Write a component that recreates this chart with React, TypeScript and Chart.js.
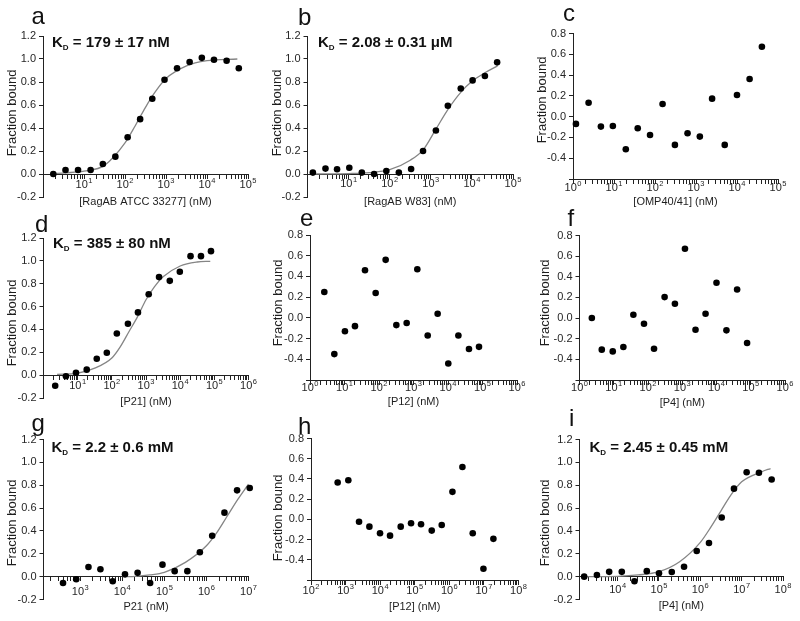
import React, { useEffect, useRef } from 'react';
import { Chart, registerables } from 'chart.js';

Chart.register(...registerables);

const FONT = '"Liberation Sans", Arial, Helvetica, sans-serif';
const Y_TITLE = 'Fraction bound';

// ---------- data ----------
const aX = [1.78, 3.54, 7.16, 14.5, 28.8, 58.2, 116, 234, 463, 920, 1860, 3770, 7480, 14800, 30100, 59700];
const aY = [0.0, 0.035, 0.035, 0.035, 0.087, 0.151, 0.32, 0.477, 0.654, 0.82, 0.92, 0.974, 1.01, 0.994, 0.985, 0.92];
const aFitX = [1.8, 3.5, 10, 31.6, 100, 178, 316, 562, 1000, 3160, 10000, 55000];
const aFitY = [0.003, 0.01, 0.025, 0.075, 0.27, 0.42, 0.58, 0.72, 0.83, 0.94, 0.985, 1.0];

const bX = [1.35, 2.74, 5.24, 10.4, 21.0, 41.7, 82.8, 167, 332, 647, 1330, 2600, 5360, 10400, 20700, 41100];
const bY = [0.012, 0.047, 0.041, 0.055, 0.012, 0.0, 0.026, 0.012, 0.044, 0.2, 0.378, 0.593, 0.744, 0.814, 0.852, 0.971];
const bFitX = [1.35, 10, 31.6, 100, 316, 650, 1330, 2600, 5360, 10400, 20700, 42000];
const bFitY = [0.0, 0.004, 0.012, 0.037, 0.12, 0.21, 0.39, 0.56, 0.71, 0.81, 0.88, 0.94];

const cX = [1.18, 2.4, 4.79, 9.38, 19.4, 37.9, 75.7, 153, 306, 622, 1240, 2470, 5020, 10000, 20300, 40500];
const cY = [-0.07, 0.134, -0.096, -0.09, -0.314, -0.112, -0.176, 0.122, -0.272, -0.16, -0.192, 0.173, -0.272, 0.208, 0.362, 0.672];

const dX = [2.2, 4.54, 8.93, 18.4, 36.2, 71.3, 140, 296, 582, 1200, 2410, 4970, 9770, 20100, 40600, 79800];
const dY = [-0.093, -0.01, 0.021, 0.048, 0.143, 0.196, 0.365, 0.45, 0.549, 0.708, 0.858, 0.825, 0.905, 1.041, 1.041, 1.085];
const dFitX = [2.5, 10, 31.6, 100, 178, 316, 562, 1000, 1780, 3160, 10000, 31600, 76000];
const dFitY = [0.006, 0.017, 0.061, 0.15, 0.25, 0.38, 0.51, 0.66, 0.775, 0.86, 0.955, 0.99, 0.996];

const eX = [2.6, 5.07, 10.3, 20.1, 39.3, 80.0, 156, 318, 634, 1290, 2580, 5010, 10200, 20000, 40600, 79200];
const eY = [0.25, -0.35, -0.13, -0.08, 0.46, 0.24, 0.56, -0.07, -0.05, 0.47, -0.17, 0.04, -0.44, -0.17, -0.3, -0.28];

const fX = [2.29, 4.47, 9.35, 19.1, 37.4, 76.4, 150, 305, 611, 1200, 2440, 4790, 10000, 19500, 40000, 78200];
const fY = [0.0, -0.306, -0.323, -0.281, 0.032, -0.055, -0.297, 0.203, 0.139, 0.671, -0.113, 0.042, 0.342, -0.119, 0.277, -0.242];

const gX = [390, 804, 1570, 3020, 5930, 11600, 23100, 45900, 90200, 176000, 352000, 698000, 1370000, 2680000, 5350000, 10700000];
const gY = [-0.055, -0.023, 0.085, 0.065, -0.04, 0.02, 0.033, -0.055, 0.105, 0.048, 0.048, 0.213, 0.358, 0.56, 0.755, 0.775];
const gFitX = [10000, 21000, 45000, 100000, 316000, 1000000, 1780000, 3160000, 5620000, 10000000];
const gFitY = [0.0, 0.003, 0.015, 0.038, 0.125, 0.27, 0.387, 0.533, 0.678, 0.81];

const hX = [590, 1200, 2450, 4880, 9910, 19300, 39300, 78200, 152000, 310000, 603000, 1230000, 2390000, 4750000, 9680000, 18800000];
const hY = [0.364, 0.387, -0.023, -0.072, -0.138, -0.161, -0.072, -0.039, -0.049, -0.111, -0.056, 0.272, 0.518, -0.138, -0.489, -0.193];

const iX = [1550, 3150, 6240, 12600, 25500, 50700, 100000, 204000, 404000, 818000, 1620000, 3290000, 6520000, 13200000, 26200000, 53100000];
const iY = [0.0, 0.015, 0.042, 0.042, -0.04, 0.048, 0.03, 0.04, 0.087, 0.224, 0.295, 0.518, 0.77, 0.914, 0.909, 0.85];
const iFitX = [1550, 10000, 31600, 100000, 316000, 1000000, 1780000, 3160000, 5620000, 10000000, 31600000, 50000000];
const iFitY = [0.0, 0.003, 0.015, 0.044, 0.131, 0.3, 0.431, 0.576, 0.72, 0.83, 0.92, 0.946];

// tick label exponents (10^n) shown on each x axis
const aExps = [1, 2, 3, 4, 5];
const bExps = [1, 2, 3, 4, 5];
const cExps = [0, 1, 2, 3, 4, 5];
const dExps = [1, 2, 3, 4, 5, 6];
const eExps = [0, 1, 2, 3, 4, 5, 6];
const fExps = [0, 1, 2, 3, 4, 5, 6];
const gExps = [3, 4, 5, 6, 7];
const hExps = [2, 3, 4, 5, 6, 7, 8];
const iExps = [4, 5, 6, 7, 8];

type Panel = {
  letter: string;
  xs: number[];
  ys: number[];
  fitX?: number[];
  fitY?: number[];
  kd?: string;
  xTitle: string;
  xMin: number;
  xMax: number;
  exps: number[];
  yMin: number;
  yMax: number;
  axisY: number;
  area: { l: number; r: number; t: number; b: number };
  labelY: number;
  titleY: number;
  yT: { x: number; y: number };
  let: { x: number; y: number };
  kdPos?: { x: number; y: number };
};

const panels: Panel[] = [
  { letter: 'a', xs: aX, ys: aY, fitX: aFitX, fitY: aFitY, kd: '179 ± 17 nM', xTitle: '[RagAB ATCC 33277] (nM)',
    xMin: 1, xMax: 1e5, exps: aExps, yMin: -0.2, yMax: 1.2, axisY: 0,
    area: { l: 43, r: 248, t: 36, b: 197 }, labelY: 184.5, titleY: 202, yT: { x: 12, y: 113 },
    let: { x: 31.5, y: 23.5 }, kdPos: { x: 52, y: 46.5 } },
  { letter: 'b', xs: bX, ys: bY, fitX: bFitX, fitY: bFitY, kd: '2.08 ± 0.31 μM', xTitle: '[RagAB W83] (nM)',
    xMin: 1, xMax: 1e5, exps: bExps, yMin: -0.2, yMax: 1.2, axisY: 0,
    area: { l: 307.5, r: 513, t: 36, b: 197 }, labelY: 184, titleY: 202, yT: { x: 277, y: 113 },
    let: { x: 298, y: 24.5 }, kdPos: { x: 318, y: 47 } },
  { letter: 'c', xs: cX, ys: cY, xTitle: '[OMP40/41] (nM)',
    xMin: 1, xMax: 1e5, exps: cExps, yMin: -0.6, yMax: 0.8, axisY: -0.6,
    area: { l: 573, r: 778, t: 33.5, b: 179 }, labelY: 187.5, titleY: 202, yT: { x: 542, y: 100 },
    let: { x: 563, y: 21 } },
  { letter: 'd', xs: dX, ys: dY, fitX: dFitX, fitY: dFitY, kd: '385 ± 80 nM', xTitle: '[P21] (nM)',
    xMin: 1, xMax: 1e6, exps: dExps, yMin: -0.2, yMax: 1.2, axisY: 0,
    area: { l: 43.5, r: 248.5, t: 238, b: 398 }, labelY: 386, titleY: 402, yT: { x: 12, y: 323 },
    let: { x: 35, y: 231.5 }, kdPos: { x: 53, y: 248 } },
  { letter: 'e', xs: eX, ys: eY, xTitle: '[P12] (nM)',
    xMin: 1, xMax: 1e6, exps: eExps, yMin: -0.6, yMax: 0.8, axisY: -0.6,
    area: { l: 310, r: 517, t: 235, b: 380 }, labelY: 387.5, titleY: 402, yT: { x: 278.5, y: 303 },
    let: { x: 300, y: 226 } },
  { letter: 'f', xs: fX, ys: fY, xTitle: '[P4] (nM)',
    xMin: 1, xMax: 1e6, exps: fExps, yMin: -0.6, yMax: 0.8, axisY: -0.6,
    area: { l: 579.5, r: 785, t: 235.5, b: 380 }, labelY: 387.5, titleY: 403, yT: { x: 545, y: 303 },
    let: { x: 567.5, y: 226 } },
  { letter: 'g', xs: gX, ys: gY, fitX: gFitX, fitY: gFitY, kd: '2.2 ± 0.6 mM', xTitle: 'P21 (nM)',
    xMin: 134, xMax: 1e7, exps: gExps, yMin: -0.2, yMax: 1.2, axisY: 0,
    area: { l: 43.5, r: 248.5, t: 439.5, b: 599.5 }, labelY: 592, titleY: 607, yT: { x: 12, y: 523 },
    let: { x: 31.5, y: 431 }, kdPos: { x: 51.5, y: 451.5 } },
  { letter: 'h', xs: hX, ys: hY, xTitle: '[P12] (nM)',
    xMin: 100, xMax: 1e8, exps: hExps, yMin: -0.6, yMax: 0.8, axisY: -0.6,
    area: { l: 311, r: 518.5, t: 438.5, b: 580 }, labelY: 591, titleY: 606.5, yT: { x: 278.5, y: 518 },
    let: { x: 298, y: 433.5 } },
  { letter: 'i', xs: iX, ys: iY, fitX: iFitX, fitY: iFitY, kd: '2.45 ± 0.45 mM', xTitle: '[P4] (nM)',
    xMin: 1195, xMax: 1e8, exps: iExps, yMin: -0.2, yMax: 1.2, axisY: 0,
    area: { l: 579.5, r: 783, t: 439.5, b: 599.5 }, labelY: 590, titleY: 606, yT: { x: 545, y: 523 },
    let: { x: 569, y: 426 }, kdPos: { x: 589.5, y: 451.5 } },
];

const W = 800;
const H = 621;
const YW = 40;
const AXIS = '#222';
const TXT = '#262626';

function logTicks(min: number, max: number): number[] {
  const out: number[] = [];
  const lo = Math.floor(Math.log10(min));
  const hi = Math.ceil(Math.log10(max));
  for (let e = lo; e <= hi; e++) {
    for (let m = 1; m <= 9; m++) {
      const v = m * Math.pow(10, e);
      if (v >= min * 0.9999 && v <= max * 1.0001) out.push(v);
    }
  }
  return out;
}

function makeTextPlugin(p: Panel) {
  return {
    id: 'panelText' + p.letter,
    afterDraw(chart: any) {
      const ctx: CanvasRenderingContext2D = chart.ctx;
      const xs = chart.scales.x;
      const ca = chart.chartArea;
      ctx.save();
      // panel letter
      ctx.fillStyle = '#111';
      ctx.textAlign = 'left';
      ctx.textBaseline = 'alphabetic';
      ctx.font = `24px ${FONT}`;
      ctx.fillText(p.letter, p.let.x, p.let.y);
      // K_D annotation
      if (p.kd && p.kdPos) {
        let x = p.kdPos.x;
        const y = p.kdPos.y;
        ctx.font = `bold 15px ${FONT}`;
        ctx.fillText('K', x, y);
        x += ctx.measureText('K').width;
        ctx.font = `bold 8px ${FONT}`;
        ctx.fillText('D', x, y + 3);
        x += ctx.measureText('D').width;
        ctx.font = `bold 15px ${FONT}`;
        ctx.fillText(' = ' + p.kd, x, y);
      }
      // x tick labels 10^n
      ctx.fillStyle = TXT;
      ctx.textBaseline = 'middle';
      ctx.textAlign = 'left';
      for (const e of p.exps) {
        const px = xs.getPixelForValue(Math.pow(10, e));
        const sup = String(e);
        ctx.font = `11px ${FONT}`;
        const w1 = ctx.measureText('10').width;
        ctx.font = `7.5px ${FONT}`;
        const w2 = ctx.measureText(sup).width;
        const x0 = px - (w1 + w2 + 0.5) / 2;
        ctx.font = `11px ${FONT}`;
        ctx.fillText('10', x0, p.labelY);
        ctx.font = `7.5px ${FONT}`;
        ctx.fillText(sup, x0 + w1 + 0.5, p.labelY - 4);
      }
      // x title
      ctx.fillStyle = '#1e1e1e';
      ctx.textAlign = 'center';
      ctx.font = `11px ${FONT}`;
      ctx.fillText(p.xTitle, (ca.left + ca.right) / 2, p.titleY);
      // y title
      ctx.translate(p.yT.x, p.yT.y);
      ctx.rotate(-Math.PI / 2);
      ctx.font = `13px ${FONT}`;
      ctx.fillText(Y_TITLE, 0, 0);
      ctx.restore();
    },
  };
}

function buildConfig(p: Panel): any {
  const ticks = logTicks(p.xMin, p.xMax);
  const datasets: any[] = [
    {
      type: 'scatter',
      data: p.xs.map((x, i) => ({ x, y: p.ys[i] })),
      pointRadius: 3.3,
      pointBackgroundColor: '#000',
      pointBorderColor: '#000',
      pointBorderWidth: 0,
      showLine: false,
      order: 0,
      clip: false,
    },
  ];
  if (p.fitX && p.fitY) {
    datasets.push({
      type: 'line',
      data: p.fitX.map((x, i) => ({ x, y: p.fitY![i] })),
      borderColor: '#858585',
      borderWidth: 1.3,
      pointRadius: 0,
      cubicInterpolationMode: 'monotone',
      fill: false,
      order: 1,
      clip: false,
    });
  }
  return {
    type: 'scatter',
    data: { datasets },
    options: {
      animation: false,
      responsive: false,
      events: [],
      layout: {
        padding: { left: p.area.l - YW, top: p.area.t, right: W - p.area.r, bottom: H - p.area.b },
      },
      plugins: { legend: { display: false }, tooltip: { enabled: false } },
      scales: {
        x: {
          type: 'logarithmic',
          axis: 'x',
          position: { y: p.axisY },
          min: p.xMin,
          max: p.xMax,
          afterBuildTicks: (s: any) => {
            s.ticks = ticks.map((v) => ({ value: v }));
          },
          afterFit: (s: any) => {
            s.height = 0;
          },
          ticks: { display: false, autoSkip: false },
          grid: { display: true, drawOnChartArea: false, drawTicks: true, tickLength: 4, color: AXIS, lineWidth: 1 },
          border: { display: true, color: AXIS, width: 1 },
        },
        y: {
          type: 'linear',
          position: 'left',
          min: p.yMin,
          max: p.yMax,
          afterFit: (s: any) => {
            s.width = YW;
          },
          ticks: {
            stepSize: 0.2,
            padding: 3,
            color: TXT,
            font: { family: FONT, size: 11 },
            callback: (v: number) => {
              if (v < -0.55) return '';
              if (Math.abs(v) < 1e-9) return '0.0';
              return v.toFixed(1);
            },
          },
          grid: { display: true, drawOnChartArea: false, drawTicks: true, tickLength: 4, color: AXIS, lineWidth: 1 },
          border: { display: true, color: AXIS, width: 1 },
        },
      },
    },
    plugins: [makeTextPlugin(p)],
  };
}

function PanelChart({ p }: { p: Panel }) {
  const ref = useRef<HTMLCanvasElement>(null);
  useEffect(() => {
    if (!ref.current) return;
    const chart = new Chart(ref.current, buildConfig(p));
    return () => chart.destroy();
  }, [p]);
  return (
    <canvas
      ref={ref}
      width={W}
      height={H}
      style={{ position: 'absolute', left: 0, top: 0, width: W, height: H }}
    />
  );
}

export default function App() {
  return (
    <div style={{ position: 'absolute', left: 0, top: 0, width: W, height: H, background: '#fff', overflow: 'hidden' }}>
      {panels.map((p) => (
        <PanelChart key={p.letter} p={p} />
      ))}
    </div>
  );
}
